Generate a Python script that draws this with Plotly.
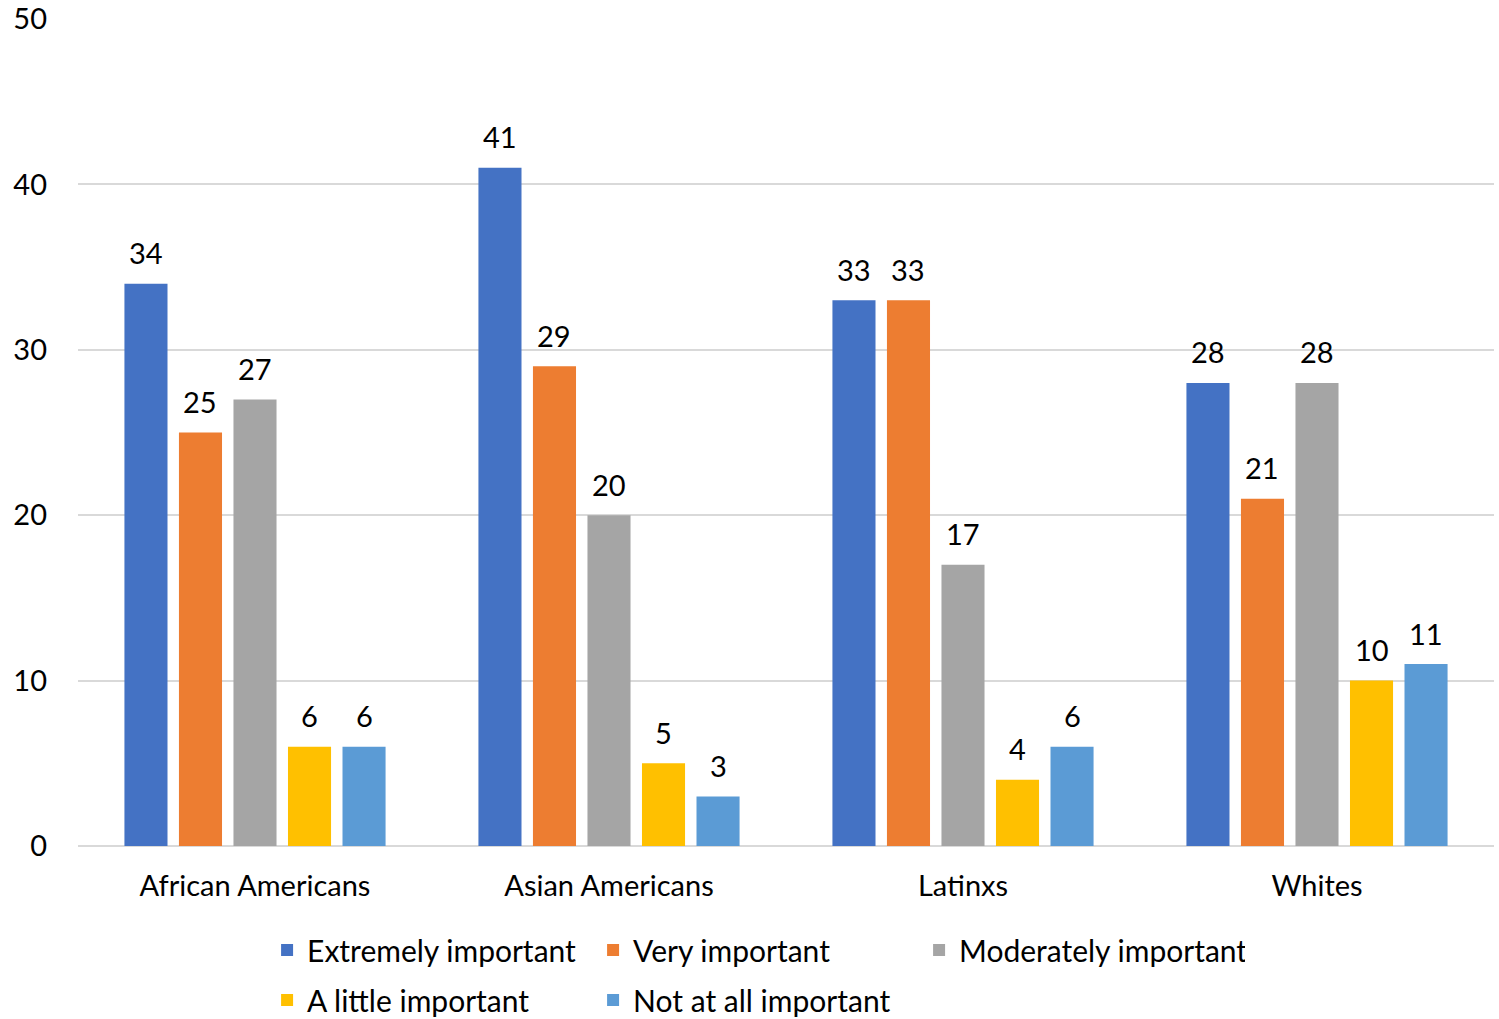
import plotly.graph_objects as go

groups = ["African Americans", "Asian Americans", "Latinxs", "Whites"]
series_names = [
    "Extremely important",
    "Very important",
    "Moderately important",
    "A little important",
    "Not at all important",
]
extremely = [34, 41, 33, 28]
very = [25, 29, 33, 21]
moderately = [27, 20, 17, 28]
a_little = [6, 5, 4, 10]
not_at_all = [6, 3, 6, 11]
y_ticks = [0, 10, 20, 30, 40, 50]

values = [extremely, very, moderately, a_little, not_at_all]
colors = ["#4472C4", "#ED7D31", "#A5A5A5", "#FFC000", "#5B9BD5"]
legend_ids = ["legend", "legend", "legend", "legend2", "legend2"]

FONT = "Lato, 'Open Sans', sans-serif"
WIDTH, HEIGHT = 1499, 1019
MARGIN = dict(l=78, r=5, t=19, b=173)
BARGAP = 0.23
BARGROUPGAP = 0.21

# pixel pitch of one bar slot inside a category, used to centre value labels
plot_w = WIDTH - MARGIN["l"] - MARGIN["r"]
cat_w = plot_w / len(groups)
slot_w = cat_w * (1 - BARGAP) / len(series_names)

fig = go.Figure()
annotations = []
n = len(series_names)
for i, (name, vals, color, lg) in enumerate(zip(series_names, values, colors, legend_ids)):
    fig.add_trace(go.Bar(
        name=name,
        x=groups,
        y=vals,
        marker=dict(color=color, line=dict(width=0)),
        legend=lg,
    ))
    offset = (i - (n - 1) / 2) * slot_w
    for g, v in zip(groups, vals):
        annotations.append(dict(
            x=g, y=v, xref="x", yref="y",
            text=str(v), showarrow=False,
            xanchor="center", yanchor="middle",
            xshift=offset, yshift=31,
            font=dict(family=FONT, size=29, color="#000000"),
        ))

legend_common = dict(
    orientation="h",
    xanchor="left",
    yanchor="middle",
    yref="container",
    font=dict(family=FONT, size=30, color="#000000"),
    entrywidth=281,
    entrywidthmode="pixels",
    bgcolor="rgba(0,0,0,0)",
    itemclick=False,
    traceorder="normal",
)
legend_x = 0.13 + 5 / plot_w

fig.update_layout(
    width=WIDTH,
    height=HEIGHT,
    margin=MARGIN,
    paper_bgcolor="white",
    plot_bgcolor="white",
    barmode="group",
    bargap=BARGAP,
    bargroupgap=BARGROUPGAP,
    font=dict(family=FONT, size=29, color="#000000"),
    xaxis=dict(
        showgrid=False,
        showline=False,
        ticks="",
        automargin=False,
        tickfont=dict(family=FONT, size=29, color="#000000"),
        ticklabelstandoff=20,
    ),
    yaxis=dict(
        range=[0, 50],
        tickvals=y_ticks,
        showgrid=True,
        gridcolor="#D9D9D9",
        gridwidth=2,
        zeroline=True,
        zerolinecolor="#D9D9D9",
        zerolinewidth=2,
        showline=False,
        ticks="",
        automargin=False,
        tickfont=dict(family=FONT, size=29, color="#000000"),
        ticklabelstandoff=30,
    ),
    legend=dict(x=legend_x, y=1 - 950 / HEIGHT, **legend_common),
    legend2=dict(x=legend_x, y=1 - 1000 / HEIGHT, **legend_common),
    annotations=annotations,
    showlegend=True,
)

fig.write_html("out.html")
